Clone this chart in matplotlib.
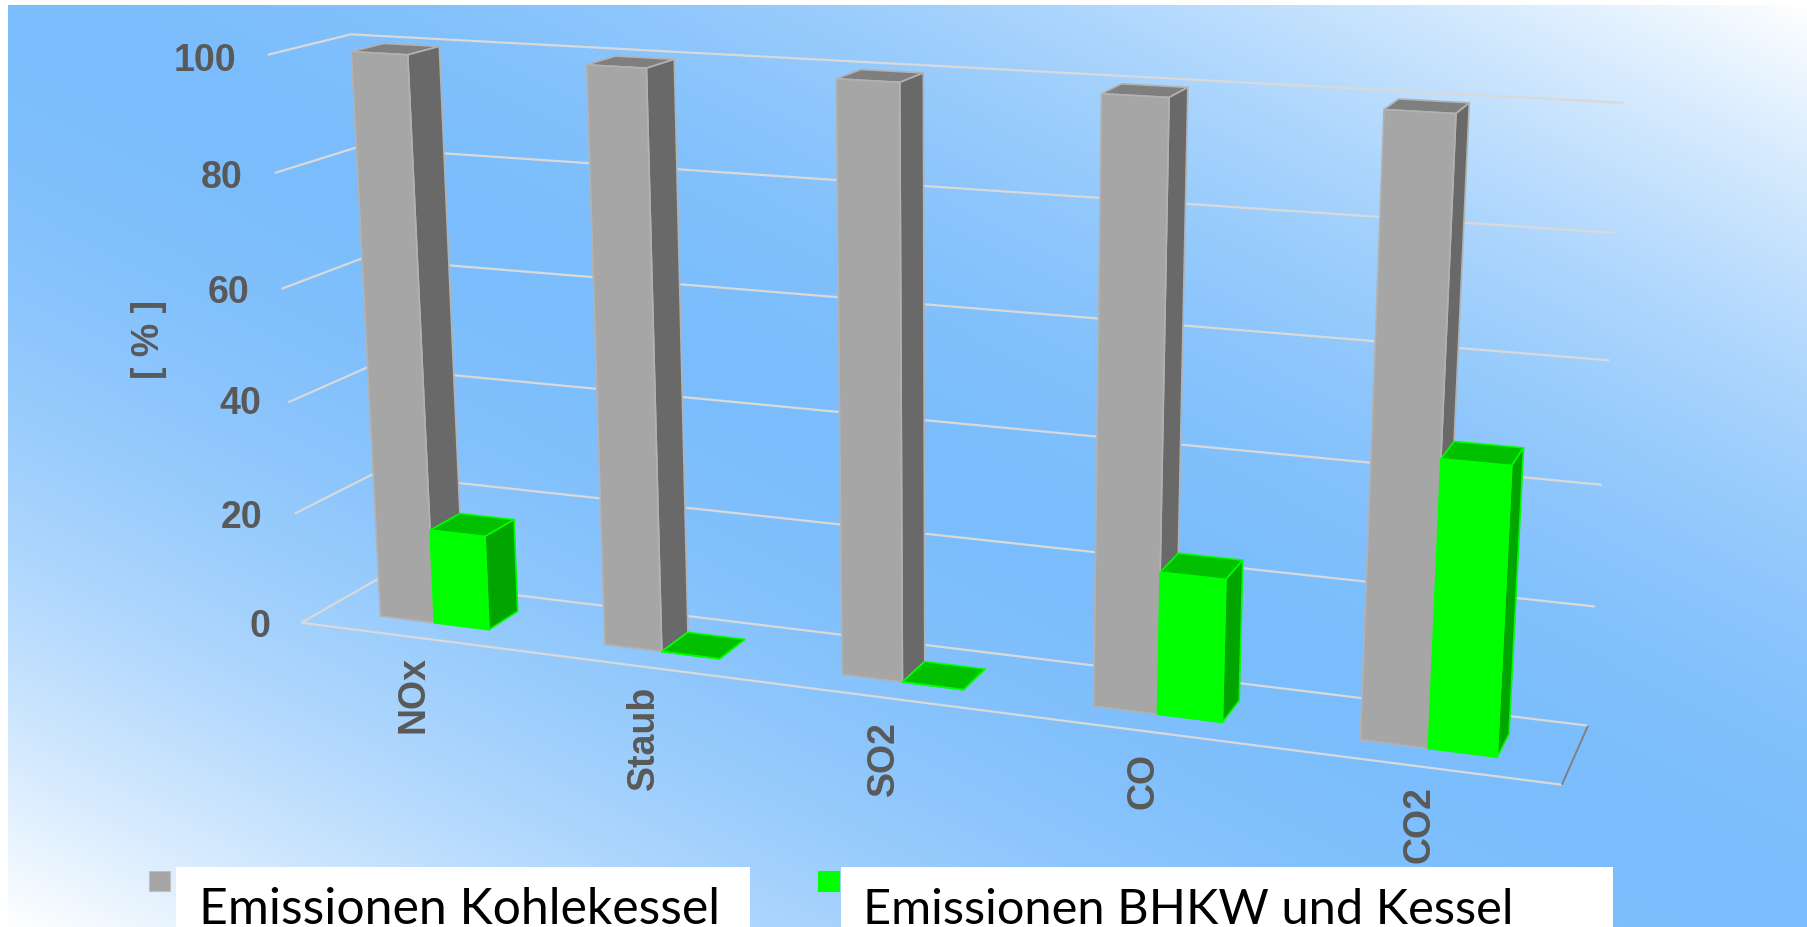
import numpy as np
import matplotlib
matplotlib.use("Agg")
import matplotlib.pyplot as plt
from matplotlib.patches import Rectangle
from mpl_toolkits.mplot3d.art3d import Line3DCollection

# ---- chart data -------------------------------------------------------
categories = ["NOx", "Staub", "SO2", "CO", "CO2"]
coal_values = [100, 100, 100, 100, 100]
bhkw_values = [17, 0, 0, 24, 47]
z_ticks = [0, 20, 40, 60, 80, 100]
legend_labels = ["Emissionen Kohlekessel", "Emissionen BHKW und Kessel"]
y_label = "[ % ]"

# ---- styles ------------------------------------------------------------
W, H = 1808, 928
TEXT = "#595959"
GRID = "#D9D9D9"
GREY_FACES = ["#A6A6A6", "#7F7F7F", "#696969"]   # front, top, side
GREEN_FACES = ["#00FF00", "#00C000", "#00A500"]
GREY_EDGE, GREEN_EDGE = "#B2B2B2", "#00FF00"
BLUE = np.array([0x7B, 0xBD, 0xFC]) / 255
bar_width, depth0, depth1 = 0.245, 0.30, 0.70

# ---- camera: (category, depth, percent) -> pixel, fitted on the chart box
cal_world = [(0, 0, 0), (0, 0, 20), (0, 0, 40), (0, 0, 60), (0, 0, 80), (0, 0, 100),
             (0, 1, 100), (0, 1, 0),
             (5, 1, 0), (5, 1, 20), (5, 1, 40), (5, 1, 60), (5, 1, 80), (5, 1, 100),
             (5, 0, 0)]
cal_pixel = [(302, 623), (295, 515), (288, 403), (282, 290), (274, 174), (267, 56),
             (352, 35), (378, 580),
             (1588, 726), (1595, 608), (1602, 486), (1609, 361), (1617, 234), (1624, 104),
             (1562, 786)]


def fit_camera(world, pixel):
    rows, rhs = [], []
    for (x, y, z), (u, v) in zip(world, pixel):
        rows.append([x, y, z, 1, 0, 0, 0, 0, -u * x, -u * y, -u * z]); rhs.append(u)
        rows.append([0, 0, 0, 0, x, y, z, 1, -v * x, -v * y, -v * z]); rhs.append(v)
    p = np.linalg.lstsq(np.array(rows, float), np.array(rhs, float), rcond=None)[0]
    return np.array([p[:4], p[4:8], [0, 1, 0, 0], [p[8], p[9], p[10], 1.0]])


M = fit_camera(cal_world, cal_pixel)

fig = plt.figure(figsize=(W / 100, H / 100), dpi=100, facecolor="white")

# ---- background -------------------------------------------------------
bg = fig.add_axes([0, 0, 1, 1], zorder=0)
bg.axis("off")
px, py = np.meshgrid(np.arange(8, W) + .5, np.arange(6, H) + .5)
d = np.abs((px - 8) * (H - 6) - (py - 6) * (W - 8))
t = ((d / d.max()) ** 1.8)[..., None]
bg.imshow(BLUE * (1 - t) + t, extent=(8, W, H, 6), aspect="auto", interpolation="bilinear", zorder=0)
bg.set_xlim(0, W)
bg.set_ylim(H, 0)

# ---- 3D chart ---------------------------------------------------------
ax = fig.add_axes([0, 0, 1, 1], projection="3d", computed_zorder=False, zorder=1)
ax.patch.set_visible(False)
ax.set_axis_off()
ax.get_proj = lambda: M
ax.apply_aspect = lambda position=None: None

n = len(categories)
grid_lines = [[(0, 0, 0), (n, 0, 0)]]
for z in z_ticks:
    grid_lines += [[(0, 0, z), (0, 1, z)], [(0, 1, z), (n, 1, z)]]
ax.add_collection3d(Line3DCollection(grid_lines, colors=GRID, linewidths=1.6, zorder=1))
ax.add_collection3d(Line3DCollection([[(n, 0, 0), (n, 1, 0)]], colors="#808080", linewidths=1.4, zorder=1))

HIDE = (0, 0, 0, 0)


def draw_bar(x, value, faces, edge, order):
    front, top, side = faces
    colors = [HIDE, top, front, HIDE, HIDE, side]
    edges = [HIDE, edge, edge, HIDE, HIDE, edge]
    ax.bar3d(x, depth0, 0, bar_width, depth1 - depth0, value, color=colors,
             edgecolor=edges, linewidth=1.2, shade=False, zorder=order)


order = 2
for i in range(n):
    x0 = i + 0.5 - bar_width
    draw_bar(x0, coal_values[i], GREY_FACES, GREY_EDGE, order)
    draw_bar(x0 + bar_width, bhkw_values[i], GREEN_FACES, GREEN_EDGE, order + 1)
    order += 2

ax.viewLim.intervalx = (0, W)
ax.viewLim.intervaly = (H, 0)

# ---- texts ------------------------------------------------------------
font = ["Liberation Sans", "DejaVu Sans"]
for val, (tx, ty) in zip(z_ticks, [(260, 627), (242, 518), (240, 404), (229, 293), (222, 178), (205, 61)]):
    bg.text(tx, ty, str(val), family=font, weight="bold", size=27, color=TEXT, ha="center", va="center")
for name, (tx, ty) in zip(categories, [(414, 695), (644, 738), (884, 759), (1144, 781), (1420, 825)]):
    bg.text(tx, ty, name, family=font, weight="bold", size=27, color=TEXT, ha="center", va="center", rotation=90)
bg.text(149, 339, y_label, family=font, weight="bold", size=27, color=TEXT, ha="center", va="center", rotation=90)

# ---- legend -----------------------------------------------------------
for (sx, color, edge, bx0, bx1, tx, label, fs) in zip(
        [149, 818], [GREY_FACES[0], GREEN_FACES[0]], ["#BFBFBF", "#00FF00"], [176, 841], [750, 1613], [199, 863],
        legend_labels, [35.9, 35.1]):
    bg.add_patch(Rectangle((sx, 872), 21, 20, fc=color, ec=edge, lw=0.8, zorder=3))
    bg.add_patch(Rectangle((bx0, 868), bx1 - bx0, H - 868, fc="white", ec="none", zorder=3))
    bg.text(tx, 924, label, family=["Lato", "DejaVu Sans"], size=fs, color="black",
            ha="left", va="baseline", zorder=4)

fig.savefig("out.png", dpi=100)
